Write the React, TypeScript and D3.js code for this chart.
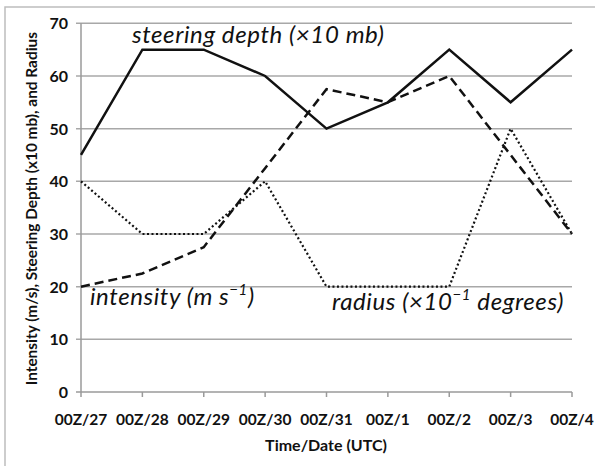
import React from "react";
import * as d3 from "d3";

const categories = ["00Z/27", "00Z/28", "00Z/29", "00Z/30", "00Z/31", "00Z/1", "00Z/2", "00Z/3", "00Z/4"];
const steeringDepth = [45, 65, 65, 60, 50, 55, 65, 55, 65];
const intensity = [20, 22.5, 27.5, 42.5, 57.5, 55, 60, 45, 30];
const radius = [40, 30, 30, 40, 20, 20, 20, 50, 30];
const yTicks = [0, 10, 20, 30, 40, 50, 60, 70];

export default function App() {
  const W = 595, H = 466;
  const left = 81, right = 572, top = 23.3, bottom = 392;
  const x = d3.scalePoint<string>().domain(categories).range([left, right]);
  const y = d3.scaleLinear().domain([0, 70]).range([bottom, top]);
  const line = d3.line<number>().x((_, i) => x(categories[i]) as number).y((d) => y(d));
  const font = "Lato, 'Open Sans', sans-serif";
  return (
    <svg width={W} height={H} style={{ position: "absolute", left: 0, top: 0, background: "#fff" }}>
      <rect x={5} y={7} width={W + 10} height={H + 10} fill="#fff" stroke="#bdbdbd" strokeWidth={1.5} />
      {yTicks.map((t) => (
        <g key={t}>
          <line x1={left - 5} x2={right} y1={y(t)} y2={y(t)} stroke={t === 0 ? "#9a9a9a" : "#a8a8a8"} strokeWidth={1.5} />
          <text x={68} y={y(t) + 6} textAnchor="end" fontFamily={font} fontWeight="bold" fontSize={16} fill="#111">{t}</text>
        </g>
      ))}
      <line x1={left} x2={left} y1={top} y2={bottom} stroke="#9a9a9a" strokeWidth={1.5} />
      {categories.map((c) => (
        <g key={c}>
          <line x1={x(c)} x2={x(c)} y1={bottom} y2={bottom + 5} stroke="#9a9a9a" strokeWidth={1.5} />
          <text x={x(c)} y={425} textAnchor="middle" fontFamily={font} fontWeight="bold" fontSize={15.5} fill="#111">{c}</text>
        </g>
      ))}
      <path d={line(radius) ?? ""} fill="none" stroke="#111" strokeWidth={2.2} strokeDasharray="2,2.5" />
      <path d={line(intensity) ?? ""} fill="none" stroke="#111" strokeWidth={2.5} strokeDasharray="9,5" />
      <path d={line(steeringDepth) ?? ""} fill="none" stroke="#111" strokeWidth={2.5} />
      <text x={132} y={43} fontFamily={font} fontStyle="italic" fontSize={24} letterSpacing={0.6} fill="#111">steering depth (×10 mb)</text>
      <text x={90} y={305} fontFamily={font} fontStyle="italic" fontSize={24} letterSpacing={0.6} fill="#111">
        intensity (m s<tspan dy={-10} fontSize={15}>−1</tspan><tspan dy={10}>)</tspan>
      </text>
      <text x={332} y={310} fontFamily={font} fontStyle="italic" fontSize={24} letterSpacing={0.6} fill="#111">
        radius (×10<tspan dy={-10} fontSize={15}>−1</tspan><tspan dy={10}> degrees)</tspan>
      </text>
      <text x={326} y={451} textAnchor="middle" fontFamily={font} fontWeight="bold" fontSize={16} fill="#111">Time/Date (UTC)</text>
      <text transform={`translate(37,${(top + bottom) / 2 + 1}) rotate(-90)`} textAnchor="middle" fontFamily={font} fontWeight="bold" fontSize={15.4} fill="#111">
        Intensity (m/s), Steering Depth (x10 mb), and Radius
      </text>
    </svg>
  );
}
